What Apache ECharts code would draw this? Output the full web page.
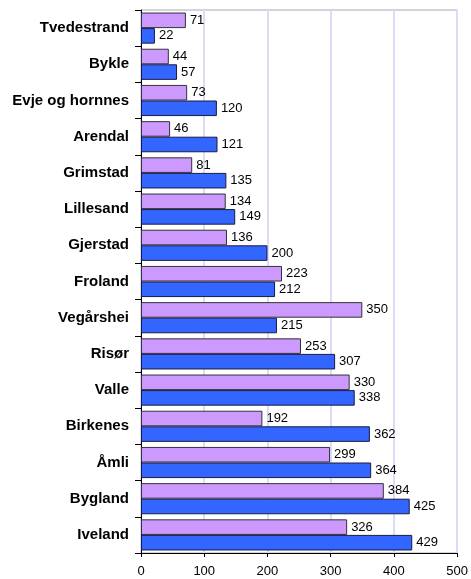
<!DOCTYPE html>
<html>
<head>
<meta charset="utf-8">
<script src="https://cdn.jsdelivr.net/npm/echarts@6/dist/echarts.min.js"></script>
<style>
  html, body { margin: 0; padding: 0; background: #fff; }
  #chart { width: 471px; height: 579px; }
</style>
</head>
<body>
<div id="chart"></div>
<script>
// Municipalities, top to bottom
var categories = ['Tvedestrand', 'Bykle', 'Evje og hornnes', 'Arendal', 'Grimstad',
  'Lillesand', 'Gjerstad', 'Froland', 'Vegårshei', 'Risør', 'Valle', 'Birkenes',
  'Åmli', 'Bygland', 'Iveland'];
// Upper (violet) bar of each pair
var seriesA = [71, 44, 73, 46, 81, 134, 136, 223, 350, 253, 330, 192, 299, 384, 326];
// Lower (blue) bar of each pair
var seriesB = [22, 57, 120, 121, 135, 149, 200, 212, 215, 307, 338, 362, 364, 425, 429];
var xTicks = [0, 100, 200, 300, 400, 500];

var chart = echarts.init(document.getElementById('chart'));
var font = 'Liberation Sans, Arial, sans-serif';
var labelStyle = {
  show: true, position: 'right', distance: 4,
  color: '#000', fontFamily: font, fontSize: 13
};
chart.setOption({
  animation: false,
  backgroundColor: '#fff',
  grid: {
    left: 141, right: 13, top: 10, bottom: 26,
    show: true, borderColor: '#a8a8b8', borderWidth: 1
  },
  xAxis: {
    type: 'value',
    min: xTicks[0], max: xTicks[xTicks.length - 1], interval: 100,
    axisLine: { show: true, lineStyle: { color: '#000', width: 1 } },
    axisTick: { show: true, length: 4, lineStyle: { color: '#000' } },
    axisLabel: { color: '#000', fontFamily: font, fontSize: 13, margin: 12 },
    splitLine: { show: true, lineStyle: { color: '#dcdcf8', width: 2 } }
  },
  yAxis: {
    type: 'category',
    data: categories,
    inverse: true,
    axisLine: { show: true, lineStyle: { color: '#000', width: 1 } },
    axisTick: { show: true, length: 6, lineStyle: { color: '#000' } },
    axisLabel: {
      color: '#000', fontFamily: font, fontSize: 15, fontWeight: 'bold', margin: 12
    },
    splitLine: { show: false }
  },
  series: [
    {
      type: 'bar', data: seriesA,
      barGap: '0%', barCategoryGap: '14%',
      itemStyle: { color: '#cc99ff', borderColor: '#333', borderWidth: 1 },
      label: labelStyle
    },
    {
      type: 'bar', data: seriesB,
      itemStyle: { color: '#3366ff', borderColor: '#1a1a40', borderWidth: 1 },
      label: labelStyle
    }
  ]
});
</script>
</body>
</html>
